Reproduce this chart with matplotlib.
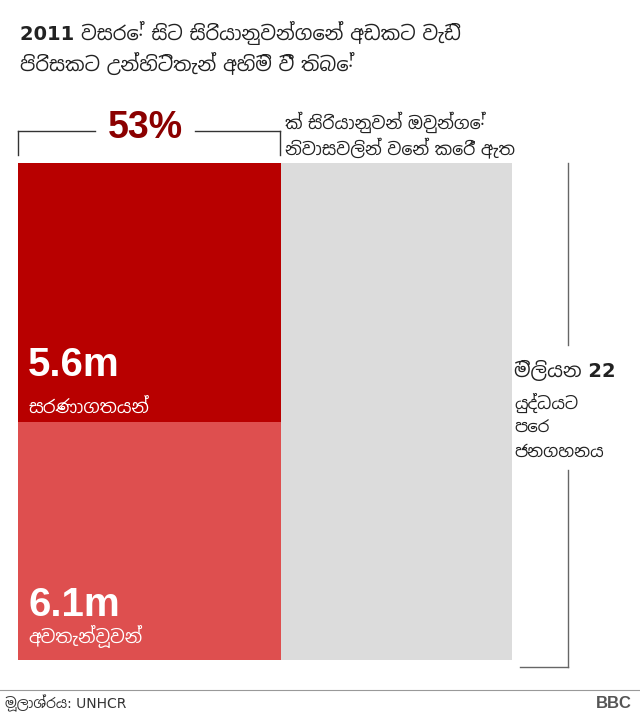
import matplotlib
matplotlib.use("Agg")
import matplotlib.pyplot as plt
from matplotlib.patches import Rectangle

SIN = ['DejaVu Sans', 'Noto Sans Sinhala', 'Hind Colombo']
LAT = ['Liberation Sans', 'DejaVu Sans']
plt.rcParams['font.family'] = SIN

population = 22.0
refugees = 5.6
displaced = 6.1
percent_label = "53%"

W, H = 640, 721
fig = plt.figure(figsize=(W/100, H/100), dpi=100)
ax = fig.add_axes([18/W, 61/H, 494/W, 497/H])
ax.set_xlim(0, population)
ax.set_ylim(0, 1)
ax.axis('off')

moved = refugees + displaced
split = 1 - 259/497  # boundary as drawn in reference
ax.add_patch(Rectangle((0, 0), population, 1, color='#dcdcdc', lw=0))
ax.add_patch(Rectangle((0, 0), moved, split, color='#de4f4f', lw=0))
ax.add_patch(Rectangle((0, split), moved, 1 - split, color='#b80000', lw=0))

def fx(x): return x / W
def fy(y): return 1 - y / H

fig.text(fx(20), fy(48), "2011 වසරේ සිට සිරියානුවන්ගෙන් අඩකට වැඩි\nපිරිසකට උන්හිටිතැන් අහිමි වී තිබේ",
         fontsize=14, fontweight='bold', va='center', ha='left', color='#222222', linespacing=1.4)

fig.add_artist(plt.Line2D([fx(18), fx(95)], [fy(131), fy(131)], color='#333333', lw=1))
fig.add_artist(plt.Line2D([fx(195), fx(280)], [fy(131), fy(131)], color='#333333', lw=1))
fig.add_artist(plt.Line2D([fx(18), fx(18)], [fy(131), fy(155)], color='#333333', lw=1))
fig.add_artist(plt.Line2D([fx(280), fx(280)], [fy(131), fy(155)], color='#333333', lw=1))
fig.text(fx(145), fy(128), percent_label, fontsize=27, fontweight='bold', color='#8b0000', ha='center', va='center', family=LAT)
fig.text(fx(285), fy(135), "ක් සිරියානුවන් ඔවුන්ගේ\nනිවාසවලින් වෙන් කෙරී ඇත",
         fontsize=12.5, ha='left', va='center', color='#222222', linespacing=1.3)

fig.text(fx(28), fy(365), f"{refugees}m", fontsize=29, fontweight='bold', color='white', ha='left', va='center', family=LAT)
fig.text(fx(28), fy(408), "සරණාගතයන්", fontsize=13, color='white', ha='left', va='center')
fig.text(fx(28), fy(605), f"{displaced}m", fontsize=29, fontweight='bold', color='white', ha='left', va='center', family=LAT)
fig.text(fx(28), fy(636), "අවතැන්වූවන්", fontsize=13, color='white', ha='left', va='center')

fig.add_artist(plt.Line2D([fx(568), fx(568)], [fy(163), fy(345)], color='#666666', lw=1))
fig.add_artist(plt.Line2D([fx(568), fx(568)], [fy(470), fy(667)], color='#666666', lw=1))
fig.add_artist(plt.Line2D([fx(520), fx(568)], [fy(667), fy(667)], color='#666666', lw=1))
fig.text(fx(514), fy(370), f"මිලියන {int(population)}", fontsize=14, fontweight='bold', color='#222222', ha='left', va='center')
fig.text(fx(514), fy(427), "යුද්ධයට\nපෙර\nජනගහනය", fontsize=12, color='#222222', ha='left', va='center', linespacing=1.4)

fig.add_artist(plt.Line2D([0, 1], [fy(690), fy(690)], color='#999999', lw=0.8))
fig.text(fx(5), fy(703), "මූලාශ්‍රය: UNHCR", fontsize=10, color='#333333', ha='left', va='center')
fig.text(fx(632), fy(703), "BBC", fontsize=12, fontweight='bold', color='#555555', ha='right', va='center', family=LAT)

fig.savefig("out.png", dpi=100)
